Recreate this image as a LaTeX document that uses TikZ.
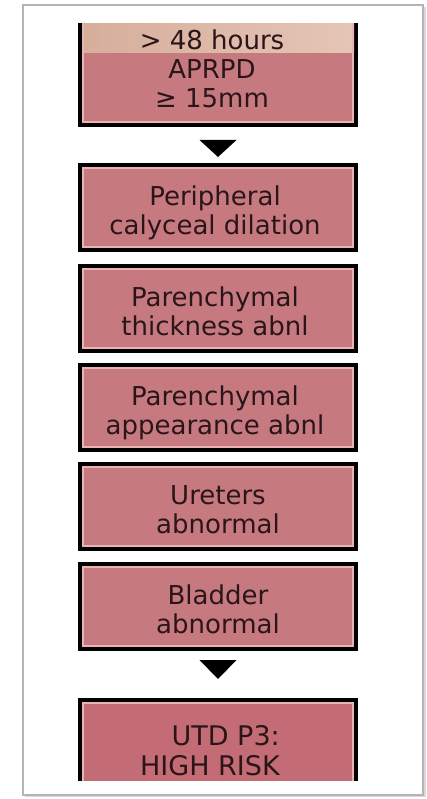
\documentclass[tikz,border=0pt]{standalone}
\usepackage{fontspec}
\setmainfont{DejaVu Sans}
\usetikzlibrary{calc}
\definecolor{boxpink}{HTML}{C67A80}
\definecolor{boxpinkdark}{HTML}{C46C75}
\definecolor{rimpink}{HTML}{EBB3B3}
\definecolor{txtc}{HTML}{2A1518}
\definecolor{beigeL}{HTML}{D6AE9C}
\definecolor{beigeM}{HTML}{F0DDD0}
\definecolor{beigeR}{HTML}{E5C5B5}
\definecolor{framec}{HTML}{B4B4B4}
\definecolor{shadowc}{HTML}{D8D8D8}
\newcommand\rimof[1]{\draw[rim] ([shift={(5pt,-5pt)}]#1.north west) rectangle ([shift={(-5pt,5pt)}]#1.south east);}
\begin{document}
\begin{tikzpicture}[x=1pt,y=-1pt,
  stepbox/.style={draw=black, line width=4pt, fill=boxpink, minimum width=276pt, minimum height=85pt, inner sep=0pt},
  rim/.style={draw=rimpink, line width=2pt},
  boxtext/.style={text=txtc, align=center, font=\fontsize{26}{29}\selectfont, inner sep=0pt},
  bigtext/.style={text=txtc, align=right, font=\fontsize{27}{30}\selectfont, inner sep=0pt},
  tri/.style={fill=black}
]
\useasboundingbox (0,0) rectangle (427,799);
% frame
\fill[shadowc] (25,7) rectangle (426,797);
\draw[framec, line width=1.2pt, fill=white] (23,5) rectangle (423,795);
% top box (clipped at its top)
\begin{scope}
\clip (0,24) rectangle (427,799);
\node[stepbox, minimum height=115pt] (t) at (218,67.5) {};
\shade[left color=beigeL, middle color=beigeM, right color=beigeR] (82,20) rectangle (354,53);
\rimof{t}
\end{scope}
\node[boxtext] (tt) at ([shift={(-6pt,-5.7pt)}]t.center) {\strut> 48 hours\\APRPD\\≥ 15mm\strut};
% middle boxes
\node[stepbox] (b2) at (218,207.5) {};
\node[stepbox] (b3) at (218,308) {};
\node[stepbox] (b4) at (218,407.5) {};
\node[stepbox] (b5) at (218,506.5) {};
\node[stepbox] (b6) at (218,606.5) {};
\rimof{b2}\rimof{b3}\rimof{b4}\rimof{b5}\rimof{b6}
\node[boxtext] (l2) at ([shift={(-3pt,-7pt)}]b2.center) {\strut Peripheral\\calyceal dilation\strut};
\node[boxtext] (l3) at ([shift={(-3pt,-7pt)}]b3.center) {\strut Parenchymal\\thickness abnl\strut};
\node[boxtext] (l4) at ([shift={(-3pt,-7pt)}]b4.center) {\strut Parenchymal\\appearance abnl\strut};
\node[boxtext] (l5) at ([yshift=-7pt]b5.center) {\strut Ureters\\abnormal\strut};
\node[boxtext] (l6) at ([yshift=-7pt]b6.center) {\strut Bladder\\abnormal\strut};
% bottom box (clipped at its bottom)
\begin{scope}
\clip (0,0) rectangle (427,780);
\node[stepbox, fill=boxpinkdark, minimum height=120pt] (b7) at (218,760) {};
\rimof{b7}
\end{scope}
\node[bigtext, anchor=east] (l7) at ([shift={(62pt,6pt)}]b7.center) {\strut UTD P3:\\HIGH RISK\strut};
% triangle connectors
\coordinate (g1) at ([yshift=-13pt]t.south);
\coordinate (g2) at ([yshift=-9pt]b6.south);
\fill[tri] ([xshift=-18.5pt]g1) -- ([xshift=18.5pt]g1) -- ([yshift=-17pt]g1) -- cycle;
\fill[tri] ([xshift=-18.5pt]g2) -- ([xshift=18.5pt]g2) -- ([yshift=-19pt]g2) -- cycle;
\end{tikzpicture}
\end{document}
